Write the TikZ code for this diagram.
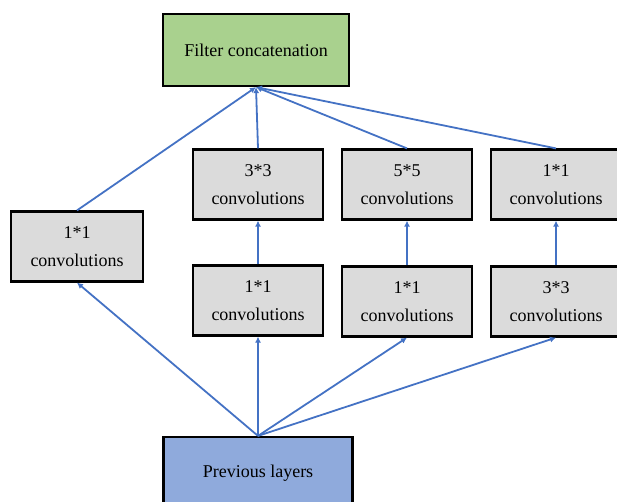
\documentclass[tikz,border=0pt]{standalone}
\usepackage{fontspec}
\setmainfont{Liberation Serif}
\usetikzlibrary{arrows.meta}
\definecolor{convgray}{HTML}{DBDBDB}
\definecolor{concatgreen}{HTML}{A9D18E}
\definecolor{prevblue}{HTML}{8FAADC}
\definecolor{arrowblue}{HTML}{4472C4}
\tikzset{
  convbox/.style={draw=black, line width=2.2pt, fill=convgray, align=center,
    minimum width=130pt, minimum height=70pt, inner sep=0pt,
    font=\fontsize{18}{28}\selectfont},
  flow/.style={draw=arrowblue, line width=1.8pt, -{Latex[length=6pt,width=6pt]}}
}
\begin{document}
\begin{tikzpicture}[x=1pt,y=-1pt]
				
				% page frame
				\useasboundingbox (0,0) rectangle (617,502);
				
				% top and bottom boxes
				\node[convbox, fill=concatgreen, minimum width=186pt, minimum height=72pt] (concat) at (256,50) {Filter concatenation};
				\node[convbox, fill=prevblue, minimum width=189pt, minimum height=72pt] (prev) at (258,473) {Previous layers};
				
				% left branch
				\node[convbox, minimum width=132pt] (oneA) at (77,246.5) {1*1\\convolutions};
				
				% upper row
				\node[convbox] (threeA) at (258,184.5) {3*3\\convolutions};
				\node[convbox] (fiveA) at (407,184.5) {5*5\\convolutions};
				\node[convbox] (oneD) at (556,184.5) {1*1\\convolutions};
				
				% lower row
				\node[convbox] (oneB) at (258,300.5) {1*1\\convolutions};
				\node[convbox] (oneC) at (407,301.5) {1*1\\convolutions};
				\node[convbox] (pool) at (556,301.5) {3*3\\convolutions};
				
				% from the previous layers
				\draw[flow] (prev.north) -- (oneA.south);
				\draw[flow] (prev.north) -- (oneB.south);
				\draw[flow] (prev.north) -- (oneC.south);
				\draw[flow] (prev.north) -- (pool.south);
				
				% lower to upper
				\draw[flow] (oneB.north) -- (threeA.south);
				\draw[flow] (oneC.north) -- (fiveA.south);
				\draw[flow] (pool.north) -- (oneD.south);
				
				% into the concatenation
				\draw[flow] (oneA.north) -- (concat.south);
				\draw[flow] (threeA.north) -- (concat.south);
				\draw[flow] (fiveA.north) -- (concat.south);
				\draw[flow] (oneD.north) -- (concat.south);
				
\end{tikzpicture}
\end{document}
